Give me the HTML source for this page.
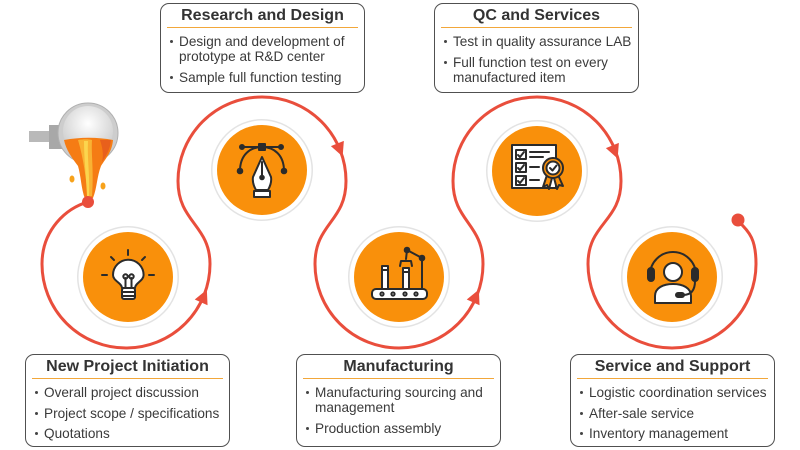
<!DOCTYPE html>
<html><head><meta charset="utf-8"><style>
html,body{margin:0;padding:0;background:#fff;}
body{width:800px;height:450px;position:relative;overflow:hidden;font-family:"Liberation Sans",Arial,sans-serif;}
svg{position:absolute;left:0;top:0;}
.box{position:absolute;width:205px;height:93px;border:1.3px solid #505050;border-radius:9px;box-sizing:border-box;background:#fff;}
.box.top{height:90px;}
.t{position:absolute;left:6px;right:6px;top:2px;height:21px;border-bottom:1.5px solid #f2a73a;text-align:center;font-weight:bold;font-size:16px;line-height:20px;color:#333;white-space:nowrap;}
ul{position:absolute;left:0;top:30px;margin:0;padding:0;list-style:none;}
li{position:relative;padding-left:18px;font-size:13.6px;line-height:15px;margin-bottom:5.6px;color:#3a3a3a;white-space:nowrap;}
li:before{content:"";position:absolute;left:9px;top:6px;width:3px;height:3px;border-radius:50%;background:#444;}
</style></head><body>
<svg width="800" height="450" viewBox="0 0 800 450">
<defs>
<radialGradient id="bowl" cx="50%" cy="35%" r="60%">
<stop offset="0" stop-color="#ffffff"/><stop offset="1" stop-color="#cfcfcf"/>
</radialGradient>
</defs>
<path d="M88,202 C66,208 42,230 42,264 A84,84 0 0 0 210,264 C210,225 178,222 178,181 A84,84 0 0 1 346,181 C346,222 315,223 315,264 A84,84 0 0 0 483,264 C483,223 453,222 453,181 A84,84 0 0 1 621,181 C621,222 588,223 588,264 A84,84 0 0 0 756,264 C756,240 750,232 738,221" fill="none" stroke="#e94e3c" stroke-width="3"/>
<circle cx="738" cy="220" r="6.5" fill="#e94e3c"/>
<g fill="#e94e3c">
<polygon points="7,0 -7,-7 -7,7" transform="translate(204,296) rotate(-66)"/>
<polygon points="7,0 -7,-7 -7,7" transform="translate(340,150) rotate(68)"/>
<polygon points="7,0 -7,-7 -7,7" transform="translate(476,296) rotate(-66)"/>
<polygon points="7,0 -7,-7 -7,7" transform="translate(615,152) rotate(68)"/>
</g>
<rect x="29" y="131" width="22" height="11" fill="#b9b9b9"/>
<rect x="49" y="125" width="13" height="24" fill="#a8a8a8"/>
<circle cx="88" cy="133" r="30" fill="#cdcdcd" stroke="#b0b0b0" stroke-width="1"/>
<circle cx="88" cy="131" r="25" fill="url(#bowl)"/>
<path d="M64,140 C80,137 98,137 113,140 C112,152 106,158 101,166 C97,176 97,188 93,198 L85,199 C81,188 81,176 78,166 C72,158 66,150 64,140 Z" fill="#f57c14"/>
<path d="M78,140 C84,139 88,139 92,140 C91,155 94,170 92,196 L88,197 C86,180 84,160 78,140 Z" fill="#f9b233"/>
<path d="M84,141 L88,141 C87,158 90,175 89,196 L87,196 C86,175 84,158 84,141 Z" fill="#fbd54e"/>
<path d="M100,140 L111,140 C110,150 106,156 102,162 C104,154 102,146 100,140 Z" fill="#e8601c"/>
<ellipse cx="72" cy="179" rx="2.5" ry="3.5" fill="#f7a21b"/>
<ellipse cx="103" cy="186" rx="2.5" ry="3.5" fill="#f7a21b"/>
<circle cx="88" cy="202" r="6" fill="#e94e3c"/>
<g>
<circle cx="128" cy="277" r="51" fill="#e3e3e3"/><circle cx="128" cy="277" r="49.5" fill="#fff"/><circle cx="128" cy="277" r="45" fill="#f9900b"/>
<circle cx="262" cy="170" r="51" fill="#e3e3e3"/><circle cx="262" cy="170" r="49.5" fill="#fff"/><circle cx="262" cy="170" r="45" fill="#f9900b"/>
<circle cx="399" cy="277" r="51" fill="#e3e3e3"/><circle cx="399" cy="277" r="49.5" fill="#fff"/><circle cx="399" cy="277" r="45" fill="#f9900b"/>
<circle cx="537" cy="171" r="51" fill="#e3e3e3"/><circle cx="537" cy="171" r="49.5" fill="#fff"/><circle cx="537" cy="171" r="45" fill="#f9900b"/>
<circle cx="672" cy="277" r="51" fill="#e3e3e3"/><circle cx="672" cy="277" r="49.5" fill="#fff"/><circle cx="672" cy="277" r="45" fill="#f9900b"/>
</g>
<g stroke="#2b2b2b" stroke-width="2" fill="#fff" stroke-linecap="round" stroke-linejoin="round">
<line x1="128" y1="250" x2="128" y2="255"/>
<line x1="111" y1="257" x2="114" y2="260"/>
<line x1="145" y1="257" x2="142" y2="260"/>
<line x1="102" y1="275" x2="107" y2="275"/>
<line x1="149" y1="275" x2="154" y2="275"/>
<path d="M122,288 C122,283 113,281 113,275 A15.3,15.3 0 1 1 143.6,275 C143.6,281 135,283 135,288 Z"/>
<path d="M125.5,288 L125.5,278 M131.5,288 L131.5,278" fill="none"/>
<circle cx="125.5" cy="276.5" r="2.2" fill="none"/><circle cx="131.5" cy="276.5" r="2.2" fill="none"/>
<rect x="122" y="288" width="13" height="11" rx="2"/>
<line x1="122" y1="292" x2="135" y2="292"/><line x1="122" y1="296" x2="135" y2="296"/>
</g>
<g stroke="#2b2b2b" stroke-width="2" fill="#fff" stroke-linecap="round" stroke-linejoin="round">
<path d="M240,171 C240,155 250,147 262,147 C274,147 284,155 284,171" fill="none"/>
<line x1="242" y1="147" x2="281" y2="147"/>
<circle cx="242" cy="147" r="2" fill="#2b2b2b"/><circle cx="281" cy="147" r="2" fill="#2b2b2b"/>
<rect x="259" y="144" width="6" height="6" fill="#2b2b2b"/>
<circle cx="240" cy="171" r="2.3" fill="#2b2b2b"/><circle cx="284" cy="171" r="2.3" fill="#2b2b2b"/>
<path d="M262,157 L271,177 Q272,183 268,190 L256,190 Q252,183 253,177 Z"/>
<line x1="262" y1="162" x2="262" y2="175"/><circle cx="262" cy="177.5" r="1.8" fill="#2b2b2b"/>
<rect x="254" y="191" width="16" height="6"/>
</g>
<g stroke="#2b2b2b" stroke-width="2" fill="#fff" stroke-linecap="round" stroke-linejoin="round">
<path d="M407,250 L422,258 L422,289" fill="none"/>
<line x1="407" y1="250" x2="406" y2="259"/>
<circle cx="407" cy="250" r="2.3" fill="#2b2b2b"/><circle cx="422" cy="258" r="2.3" fill="#2b2b2b"/>
<path d="M400,266 L401,261 L411,261 L412,266" fill="none"/>
<rect x="382" y="266" width="6" height="23"/>
<line x1="382" y1="270" x2="388" y2="270"/>
<rect x="403" y="268" width="6" height="21"/>
<line x1="403" y1="272" x2="409" y2="272"/>
<rect x="372" y="289" width="55" height="10" rx="4"/>
<circle cx="382" cy="294" r="1.6" fill="none"/><circle cx="393" cy="294" r="1.6" fill="none"/>
<circle cx="405" cy="294" r="1.6" fill="none"/><circle cx="416" cy="294" r="1.6" fill="none"/>
</g>
<g stroke="#2b2b2b" stroke-width="2" fill="#fff" stroke-linecap="round" stroke-linejoin="round">
<rect x="512" y="145" width="44" height="43"/>
<rect x="516" y="150" width="10" height="9"/><rect x="516" y="163" width="10" height="9"/><rect x="516" y="176" width="10" height="9"/>
<path d="M518,155 L520,157 L524,152 M518,168 L520,170 L524,165 M518,181 L520,183 L524,178" fill="none"/>
<line x1="530" y1="152" x2="549" y2="152"/><line x1="530" y1="157" x2="543" y2="157"/>
<line x1="530" y1="167" x2="539" y2="167"/><line x1="530" y1="180" x2="539" y2="180"/>
<path d="M547,175 L543,187 L547,185 L549,189 L552,178 Z" fill="#f9900b"/>
<path d="M558,175 L563,186 L559,185 L557,189 L554,178 Z" fill="#f9900b"/>
<circle cx="553" cy="168" r="10" fill="#f9900b"/>
<circle cx="553" cy="168" r="6.5"/>
<path d="M550,168 L552.5,170.5 L556.5,165.5" fill="none"/>
</g>
<g stroke="#2b2b2b" stroke-width="2" fill="#fff" stroke-linecap="round" stroke-linejoin="round">
<path d="M650,275 A23,23 0 0 1 696,275" fill="none"/>
<path d="M655,303 L655,296 C655,288 663,284 673,284 C683,284 691,288 691,296 L691,303 Z"/>
<circle cx="673" cy="272" r="9"/>
<rect x="648" y="268" width="6" height="13" rx="3" fill="#2b2b2b"/>
<rect x="692" y="268" width="6" height="13" rx="3" fill="#2b2b2b"/>
<path d="M695,281 Q695,295 683,295" fill="none"/>
<rect x="676" y="293" width="8" height="4" rx="2" fill="#2b2b2b"/>
</g>
</svg>

<div class="box" style="left:25px;top:354px;">
<div class="t">New Project Initiation</div>
<ul><li>Overall project discussion</li><li>Project scope / specifications</li><li>Quotations</li></ul>
</div>
<div class="box top" style="left:160px;top:3px;">
<div class="t">Research and Design</div>
<ul><li>Design and development of<br>prototype at R&amp;D center</li><li>Sample full function testing</li></ul>
</div>
<div class="box top" style="left:434px;top:3px;">
<div class="t">QC and Services</div>
<ul><li>Test in quality assurance LAB</li><li>Full function test on every<br>manufactured item</li></ul>
</div>
<div class="box" style="left:296px;top:354px;">
<div class="t">Manufacturing</div>
<ul><li>Manufacturing sourcing and<br>management</li><li>Production assembly</li></ul>
</div>
<div class="box" style="left:570px;top:354px;">
<div class="t">Service and Support</div>
<ul><li>Logistic coordination services</li><li>After-sale service</li><li>Inventory management</li></ul>
</div>
</body></html>
